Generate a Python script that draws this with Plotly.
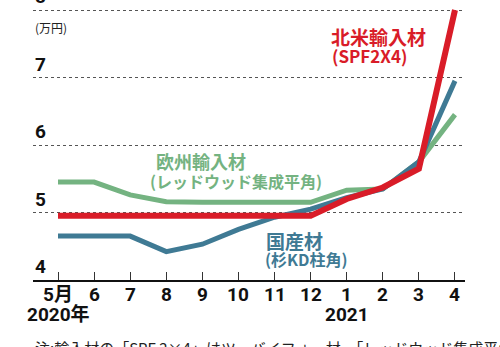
import plotly.graph_objects as go

# Monthly lumber prices, May 2020 - Apr 2021 (10,000 yen per m3)
months = ["5月", "6", "7", "8", "9", "10", "11", "12", "1", "2", "3", "4"]
years = {0: "2020年", 8: "2021"}
north_america = [4.95, 4.95, 4.95, 4.95, 4.95, 4.95, 4.95, 4.95, 5.2, 5.37, 5.65, 8.0]
domestic = [4.65, 4.65, 4.65, 4.42, 4.53, 4.75, 4.93, 5.05, 5.22, 5.35, 5.75, 6.95]
europe = [5.45, 5.45, 5.26, 5.16, 5.15, 5.15, 5.15, 5.15, 5.33, 5.35, 5.75, 6.45]
y_ticks = [4, 5, 6, 7, 8]

RED = "#d91c28"
BLUE = "#3f7a94"
GREEN = "#74b381"

NUM_FONT = "Liberation Sans Narrow, Roboto, Noto Sans CJK JP"
JP_FONT = "Noto Sans CJK JP"

W, H = 500, 347
L, R, T, B = 33, 35, 0, 67
PW, PH = W - L - R, H - T - B

def pxx(x):
    return (x - L) / PW

def pxy(y):
    return (H - B - y) / PH

idx = list(range(len(months)))

fig = go.Figure()
for vals, col, w in [(europe, GREEN, 5), (domestic, BLUE, 5), (north_america, RED, 6)]:
    fig.add_trace(go.Scatter(
        x=idx, y=vals, mode="lines",
        line=dict(color=col, width=w),
        hoverinfo="skip", showlegend=False, cliponaxis=False,
    ))

annotations = []
# y tick labels sit just above their gridlines
for v in y_ticks:
    annotations.append(dict(
        x=0, xref="paper", y=v, yref="y", xanchor="left", yanchor="bottom",
        text=f"<b>{v}</b>", showarrow=False,
        font=dict(family=NUM_FONT, size=19, color="#111"),
    ))
annotations.append(dict(
    x=0, xref="paper", y=pxy(28), yref="paper", xanchor="left", yanchor="middle",
    text="(万円)", showarrow=False, font=dict(family=JP_FONT, size=12, color="#222"),
))

# month labels under the axis, with the year beneath the first month of each year
for i, m in enumerate(months):
    annotations.append(dict(
        x=i, xref="x", y=pxy(294), yref="paper", xanchor="center", yanchor="middle",
        text=f"<b>{m}</b>", showarrow=False,
        font=dict(family=NUM_FONT, size=19, color="#111"),
    ))
for i, yr in years.items():
    annotations.append(dict(
        x=i, xref="x", y=pxy(314), yref="paper", xanchor="center", yanchor="middle",
        text=f"<b>{yr}</b>", showarrow=False,
        font=dict(family=NUM_FONT, size=19, color="#111"),
    ))

def label(x, y, text, color, size, bold=True):
    annotations.append(dict(
        x=pxx(x), xref="paper", y=pxy(y), yref="paper",
        xanchor="left", yanchor="middle", showarrow=False,
        text=f"<b>{text}</b>" if bold else text,
        font=dict(family=JP_FONT, size=size, color=color),
    ))

label(329, 37, "北米輸入材", RED, 19)
label(330, 56, "(SPF2X4)", RED, 17)
label(154, 161, "欧州輸入材", GREEN, 18)
label(148, 181, "(レッドウッド集成平角)", GREEN, 16)
label(264, 240, "国産材", BLUE, 19)
label(263, 259, "(杉KD柱角)", BLUE, 16)

annotations.append(dict(
    x=0, xref="paper", y=pxy(335), yref="paper", xanchor="left", yanchor="top",
    text="注:輸入材の「SPF 2×4」はツーバイフォー材、「レッドウッド集成平角」は",
    showarrow=False, font=dict(family=JP_FONT, size=15, color="#222"),
))

x0 = (L - 58) / 36.09
x1 = (W - R - 58) / 36.09

fig.update_layout(
    width=W, height=H,
    margin=dict(l=L, r=R, t=T, b=B),
    paper_bgcolor="white", plot_bgcolor="white",
    annotations=annotations,
    xaxis=dict(
        range=[x0, x1], tickmode="array", tickvals=idx, showticklabels=False,
        ticks="inside", ticklen=8, tickwidth=1, tickcolor="#333",
        showline=True, linecolor="#111", linewidth=2, showgrid=False, zeroline=False,
        fixedrange=True,
    ),
    yaxis=dict(
        range=[4, 4 + PH / 67.5], tickmode="array", tickvals=y_ticks, showticklabels=False,
        showgrid=True, gridcolor="#555", gridwidth=1.3, griddash="3px,3px",
        zeroline=False, showline=False, fixedrange=True,
    ),
)

fig.write_html("out.html")
